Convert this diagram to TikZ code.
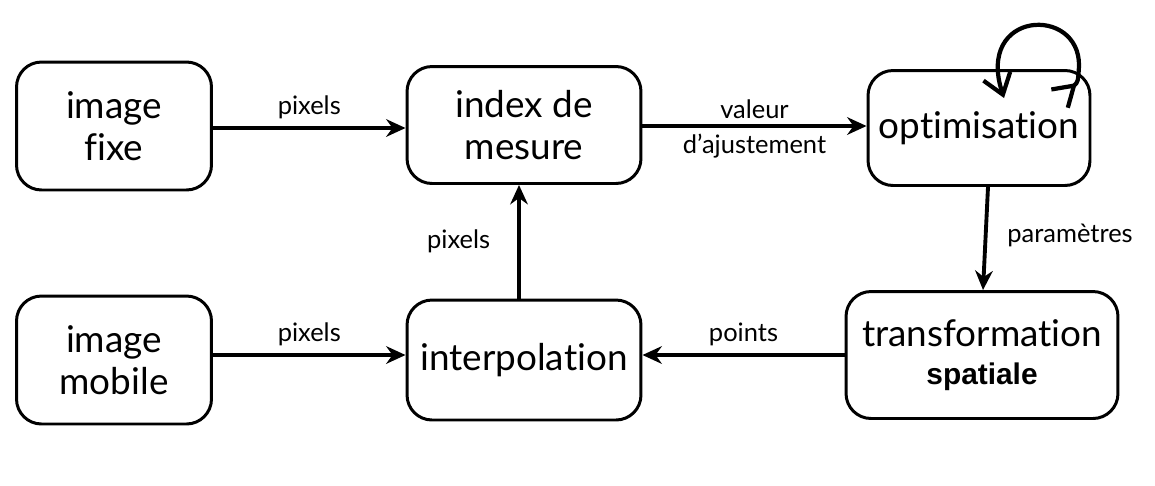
\documentclass[tikz,border=0pt]{standalone}
\usepackage{fontspec}
\setmainfont{Lato}[Ligatures={NoCommon}]
\newfontfamily\boldsans{Liberation Sans}
\usetikzlibrary{arrows.meta}

\begin{document}
\begin{tikzpicture}[x=0.02cm, y=-0.02cm,
    bloc/.style={draw=black, line width=1.7pt, rounded corners=0.5cm,
                 align=center, font=\fontsize{21}{24}\selectfont},
    fleche/.style={line width=2.2pt, -{Stealth[length=11pt,width=10pt]}},
    etiq/.style={font=\fontsize{14.5}{17}\selectfont}]
    \useasboundingbox (0,0) rectangle (1155,485);
    \node[bloc, minimum width=3.9cm, minimum height=2.56cm] (fixe) at (114,126) {image\\fixe};
    \node[bloc, minimum width=4.68cm, minimum height=2.34cm] (index) at (524,125) {index de\\mesure};
    \node[bloc, minimum width=4.44cm, minimum height=2.3cm] (optim) at (979,128) {optimisation};
    \node[bloc, minimum width=3.9cm, minimum height=2.56cm] (mobile) at (114,360) {image\\mobile};
    \node[bloc, minimum width=4.68cm, minimum height=2.4cm] (interp) at (524,360) {interpolation};
    \node[bloc, minimum width=5.44cm, minimum height=2.54cm] (transf) at (982,355)
        {transformation\\[-2pt]{\boldsans\bfseries\fontsize{17}{20}\selectfont spatiale}};
    % liens entre les blocs
    \draw[fleche] (fixe.east |- 0,128) -- node[etiq, above=1pt] {pixels} (index.west |- 0,128);
    \draw[fleche] (mobile.east |- 0,355) -- node[etiq, above=1pt] {pixels} (interp.west |- 0,355);
    \draw[fleche] (interp.north -| 519,0) -- node[etiq, left=12pt] {pixels} (index.south -| 519,0);
    \draw[fleche] (index.east |- 0,126) -- node[etiq, above=0pt] {valeur}
        node[etiq, below=0pt] {d'ajustement} (optim.west |- 0,126);
    \draw[fleche] (optim.south -| 988,0) -- node[etiq, right=8pt, yshift=2pt] {paramètres} (transf.north -| 983,0);
    \draw[fleche] (transf.west |- 0,355) -- node[etiq, above=1pt] {points} (interp.east |- 0,355);
    % boucle
    \coordinate (b1) at (1004,98);
    \coordinate (b2) at (1058,100);
    \draw[line width=2.4pt, {Straight Barb[length=11pt,width=16pt]}-{Straight Barb[length=11pt,width=14pt,reversed]}]
        (b1) .. controls (975,10) and (1080,5) .. (1079,66) .. controls (1078,82) .. (b2);
\end{tikzpicture}
\end{document}
